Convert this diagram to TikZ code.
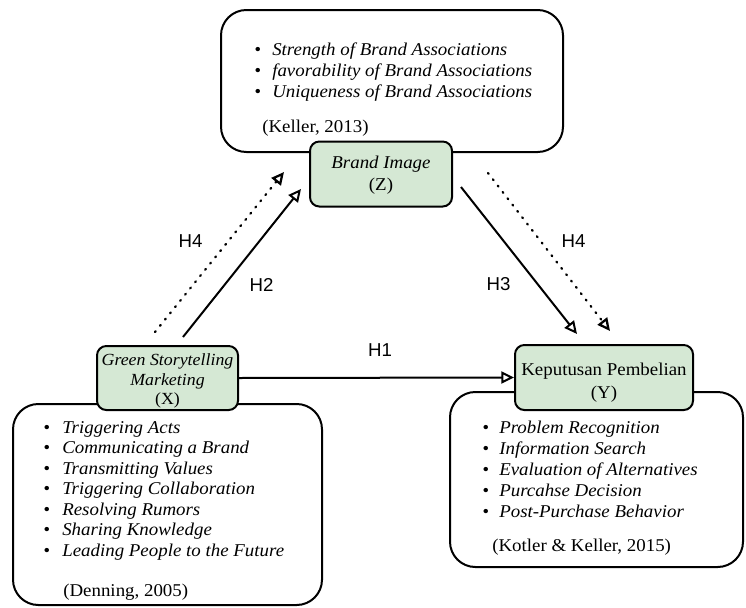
\documentclass[tikz,border=0pt]{standalone}
\usepackage{fontspec}
\setmainfont{Liberation Serif}[FakeStretch=1.05]
\setsansfont{Liberation Sans}
\usetikzlibrary{positioning,arrows.meta}
\definecolor{vargreen}{HTML}{D5E8D4}
\newcommand{\itm}[2][13.5pt]{\makebox[#1][l]{\textbullet}#2}
\newcommand{\topgap}[1]{\rule{0pt}{#1}}
\tikzset{
  dimbox/.style ={rectangle, rounded corners=19pt, draw=black, line width=1.5pt,
                  fill=white, inner sep=0pt},
  varbox/.style ={rectangle, rounded corners=7pt, draw=black, line width=1.5pt,
                  fill=vargreen, align=center, inner sep=0pt,
                  font=\fontsize{13.5}{16.5}\selectfont},
  indlist/.style={align=left, inner sep=0pt, font=\fontsize{13.5}{15.75}\selectfont\itshape},
  src/.style    ={inner sep=0pt, anchor=base west, font=\fontsize{13.5}{16}\selectfont},
  hyp/.style    ={-{Triangle[open,length=9.5pt,width=9pt]}, line width=1.5pt},
  hypd/.style   ={hyp, line width=1.7pt, dash pattern=on 0.8pt off 5.2pt, line cap=round},
  hlbl/.style   ={font=\sffamily\fontsize{14}{16}\selectfont, inner sep=0pt}
}
\begin{document}
\begin{tikzpicture}[x=0.75pt, y=-0.75pt]
  \useasboundingbox (0,0) rectangle (746,607);
  % indicator boxes
  \node[dimbox,minimum width=256.5pt,minimum height=106.5pt] (topbox) at (392,81) {};
  \node[dimbox,minimum width=231.75pt,minimum height=150.75pt] (xbox) at (167.5,504.5) {};
  \node[dimbox,minimum width=219.75pt,minimum height=131.25pt] (ybox) at (596.5,479.5) {};
  % variables
  \node[varbox,minimum width=106.5pt,minimum height=48.75pt] (bi) at (381,174)
    {\topgap{11.5pt}\textit{Brand Image}\\(Z)};
  \node[varbox,minimum width=105.75pt,minimum height=48pt,
        font=\fontsize{12.75}{14.6}\selectfont] (gsm) at (167.5,378)
    {\topgap{13.5pt}\textit{Green Storytelling}\\\textit{Marketing}\\(X)};
  \node[varbox,minimum width=133.5pt,minimum height=48.75pt,
        font=\fontsize{13.5}{17.25}\selectfont] (kp) at (604,377.5)
    {\topgap{17pt}Keputusan Pembelian\\(Y)};
  % indicators
  \node[indlist,below right=25.5pt and 25.5pt of topbox.north west] (zlist)
    {\itm{Strength of Brand Associations}\\
     \itm{favorability of Brand Associations}\\
     \itm{Uniqueness of Brand Associations}};
  \node[src] (zsrc) at (262,132) {(Keller, 2013)};
  \node[indlist,font=\fontsize{13.5}{15.4}\selectfont\itshape,
        below right=13.5pt and 23.25pt of xbox.north west] (xlist)
    {\itm[14.25pt]{Triggering Acts}\\
     \itm[14.25pt]{Communicating a Brand}\\
     \itm[14.25pt]{Transmitting Values}\\
     \itm[14.25pt]{Triggering Collaboration}\\
     \itm[14.25pt]{Resolving Rumors}\\
     \itm[14.25pt]{Sharing Knowledge}\\
     \itm[14.25pt]{Leading People to the Future}};
  \node[src] (xsrc) at (63,596) {(Denning, 2005)};
  \node[indlist,below right=22.5pt and 24.75pt of ybox.north west] (ylist)
    {\itm[12.75pt]{Problem Recognition}\\
     \itm[12.75pt]{Information Search}\\
     \itm[12.75pt]{Evaluation of Alternatives}\\
     \itm[12.75pt]{Purcahse Decision}\\
     \itm[12.75pt]{Post-Purchase Behavior}};
  \node[src] (ysrc) at (492,551) {(Kotler \& Keller, 2015)};
  % hypotheses
  \draw[hyp] (gsm.east) -- (kp.west)
    node[hlbl,midway,shift={(3.5,-28)}] (h1) {H1};
  \draw[hyp] ([shift={(15.5,-8)}]gsm.north) -- ([shift={(-8,-18.5)}]bi.south west)
    node[hlbl,midway,shift={(19.5,22)}] (h2) {H2};
  \draw[hyp] ([shift={(8,13)}]bi.east) -- ([shift={(-27,-10)}]kp.north)
    node[hlbl,midway,shift={(-20.5,24)}] (h3) {H3};
  \draw[hypd] ([shift={(-12.5,-13)}]gsm.north) -- ([shift={(-25,-2)}]bi.west)
    node[hlbl,midway,shift={(-29,-10.5)}] (h4a) {H4};
  \draw[hypd] ([shift={(35,-1)}]bi.east) -- ([shift={(6,-13)}]kp.north)
    node[hlbl,midway,shift={(24.5,-10.5)}] (h4b) {H4};
\end{tikzpicture}
\end{document}
